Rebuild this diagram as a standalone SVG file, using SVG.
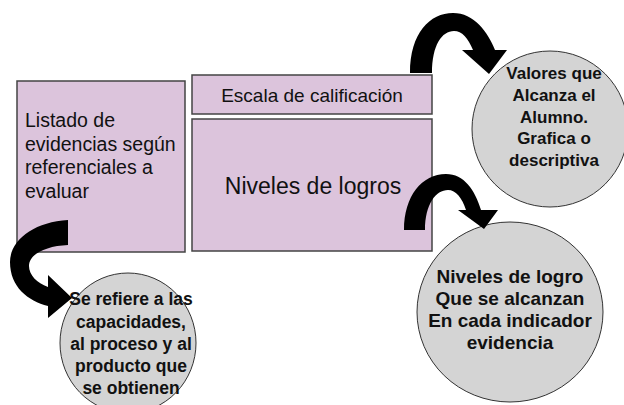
<svg xmlns="http://www.w3.org/2000/svg" width="624" height="405" viewBox="0 0 624 405">
<style>
.box{fill:#DCC4DC;stroke:#444;stroke-width:1.5}
.circ{fill:#D4D4D4;stroke:#333;stroke-width:1}
.t{font-family:"Liberation Sans",Arial,sans-serif;fill:#111}
.b{font-family:"Liberation Sans",Arial,sans-serif;font-weight:bold;fill:#111;text-anchor:middle}
.arrow{fill:#000}
</style>
<rect width="624" height="405" fill="#fff"/>
<g id="listado">
<rect class="box" x="17" y="81" width="168" height="171"/>
<text class="t" font-size="19.5" x="25"><tspan x="25" y="127">Listado de</tspan><tspan x="25" y="150.5">evidencias según</tspan><tspan x="25" y="174">referenciales a</tspan><tspan x="25" y="197.5">evaluar</tspan></text>
</g>
<g id="escala">
<rect class="box" x="192" y="75" width="240" height="39"/>
<text class="t" font-size="19" x="312" y="102" text-anchor="middle">Escala de calificación</text>
</g>
<g id="niveles">
<rect class="box" x="192" y="119" width="240" height="132"/>
<text class="t" font-size="23" x="313" y="194" text-anchor="middle">Niveles de logros</text>
</g>
<g id="valores">
<ellipse class="circ" cx="550" cy="129" rx="78" ry="78"/>
<text class="b" font-size="17"><tspan x="554" y="79">Valores que</tspan><tspan x="554" y="101">Alcanza el</tspan><tspan x="554" y="123">Alumno.</tspan><tspan x="554" y="144">Grafica o</tspan><tspan x="554" y="166">descriptiva</tspan></text>
</g>
<g id="nivelesLogro">
<ellipse class="circ" cx="510" cy="312" rx="93" ry="90"/>
<text class="b" font-size="19"><tspan x="510" y="283">Niveles de logro</tspan><tspan x="510" y="305">Que se alcanzan</tspan><tspan x="510" y="327">En cada indicador</tspan><tspan x="510" y="349">evidencia</tspan></text>
</g>
<g id="refiere">
<ellipse class="circ" cx="128" cy="343" rx="68" ry="70"/>
<text class="b" font-size="17.5"><tspan x="131" y="305">Se refiere a las</tspan><tspan x="131" y="328">capacidades,</tspan><tspan x="131" y="350">al proceso y al</tspan><tspan x="131" y="372">producto que</tspan><tspan x="131" y="394">se obtienen</tspan></text>
</g>
<g id="connectors">
<path class="arrow" d="M410,73 C410,33 430,13 453,13 C474,13 488,32 495,50 L507,50 L489,74 L462,50 L473,50 C468,38 462,31 454,31 C442,31 432,45 432,73 Z"/>
<path class="arrow" d="M404,230 C404,196 422,174 446,174 C464,174 475,190 481,210 L498,210 L484,229 L458,210 L466,210 C462,198 456,190 448,190 C436,190 425,204 425,230 Z"/>
<path class="arrow" d="M68,220 C34,222 10,240 10,262 C10,287 28,301 48,306 L48,318 L72,298 L48,275 L48,287 C37,283 29,275 29,266 C29,254 46,246 68,245 Z"/>
</g>
</svg>
